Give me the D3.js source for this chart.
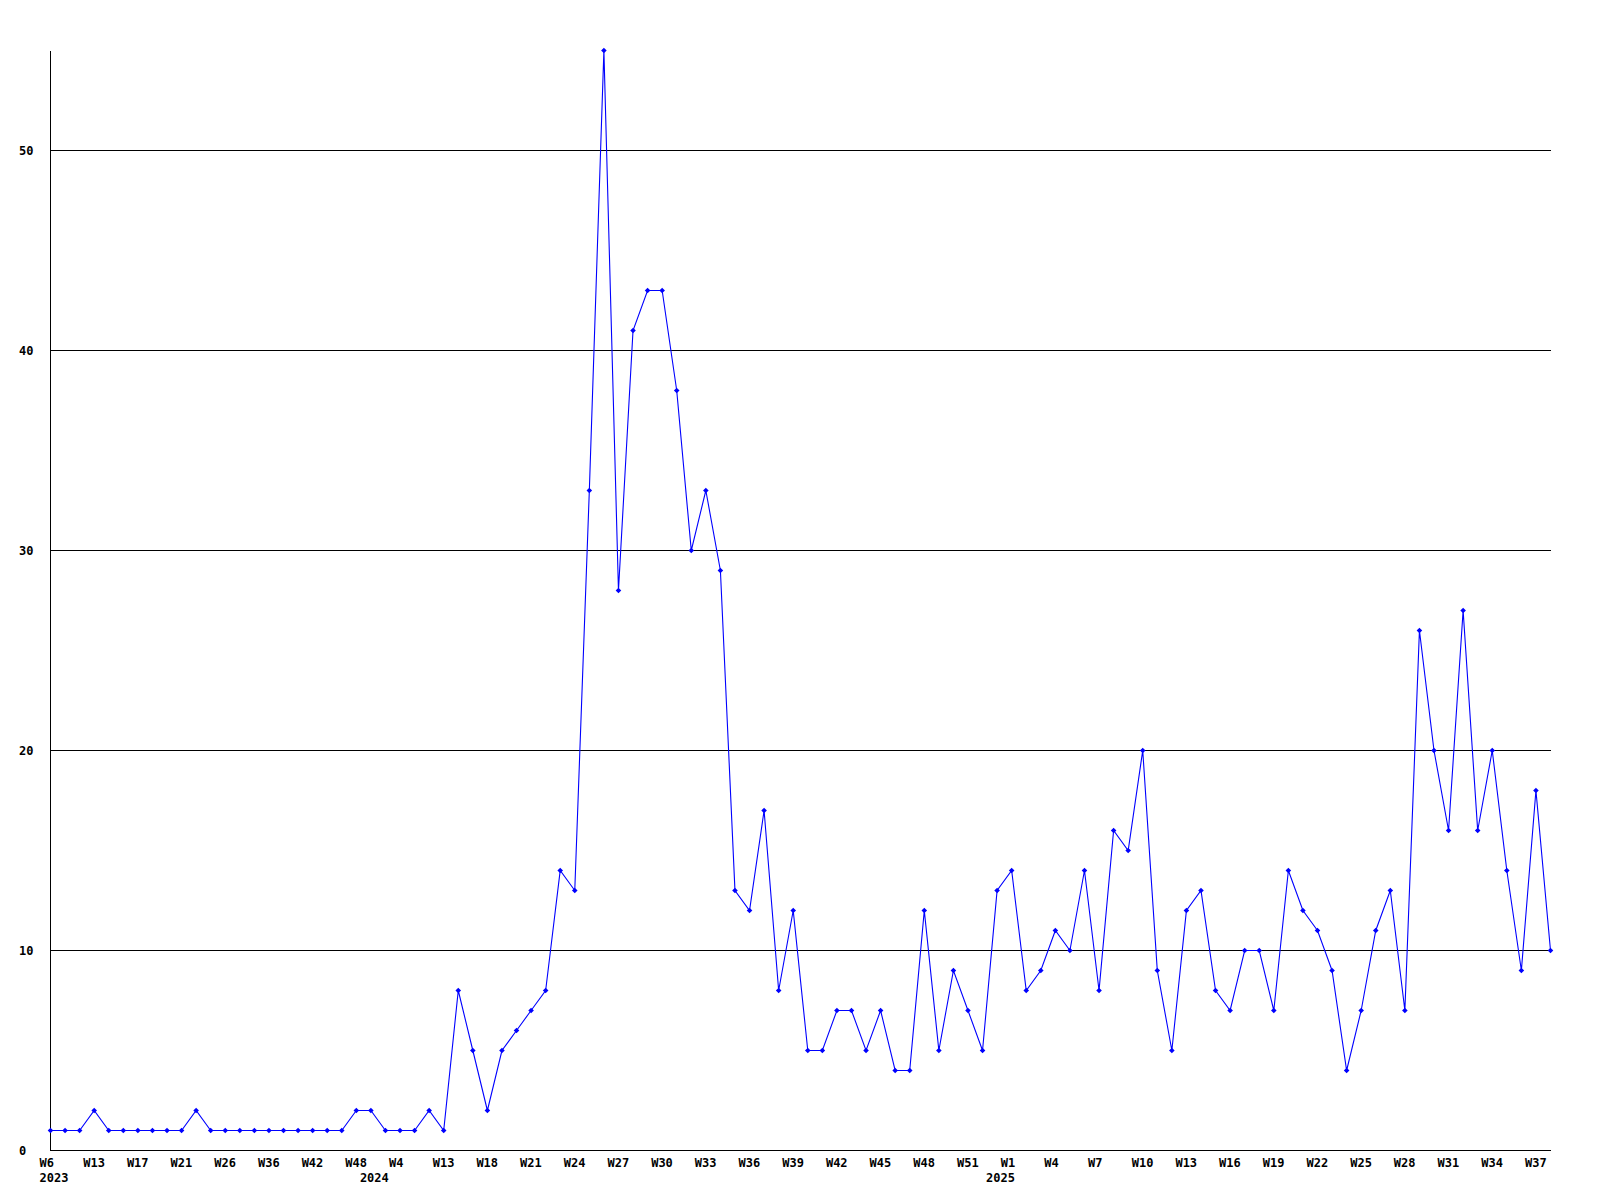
<!DOCTYPE html>
<html>
<head>
<meta charset="utf-8">
<script src="https://cdn.jsdelivr.net/npm/d3@7"></script>
<style>
  html, body { margin: 0; padding: 0; background: #ffffff; }
  svg { display: block; }
  text { font-family: "DejaVu Sans Mono", "Liberation Mono", monospace; font-weight: bold; font-size: 12px; fill: #000; }
</style>
</head>
<body>
<svg id="chart" width="1600" height="1200"></svg>
<script>
// Weekly counts, one point per reported week (W6 2023 ... W38 2025)
const counts = [
  1,1,1,2,1,1,1,1,1,1,2,1,1,1,1,1,1,1,1,1,1,2,2,1,1,1,2,1,
  8,5,2,5,6,7,8,14,13,33,
  55,28,41,43,43,38,30,33,29,13,
  12,17,8,12,5,5,7,7,5,7,
  4,4,12,5,9,7,5,13,14,8,
  9,11,10,14,8,16,15,20,9,5,
  12,13,8,7,10,10,7,14,12,11,
  9,4,7,11,13,7,26,20,16,27,
  16,20,14,9,18,10
];
// Week tick labels (every third point)
const weekLabels = ["W6","W13","W17","W21","W26","W36","W42","W48","W4","W13","W18","W21",
  "W24","W27","W30","W33","W36","W39","W42","W45","W48","W51","W1","W4","W7","W10",
  "W13","W16","W19","W22","W25","W28","W31","W34","W37"];
const weekLabelIndex = weekLabels.map((d, i) => i * 3);
// Year labels and the point index where each one is placed
const yearLabels = ["2023", "2024", "2025"];
const yearLabelIndex = [0, 22, 65];
// Y ticks
const yTicks = [0, 10, 20, 30, 40, 50];

const svg = d3.select("#chart");
svg.append("rect").attr("width", 1600).attr("height", 1200).attr("fill", "#fff");

const x = d3.scaleLinear().domain([0, counts.length - 1]).range([50.5, 1550.5]);
const y = d3.scaleLinear().domain([0, 55]).range([1150.5, 50.5]);

// Horizontal grid lines
svg.append("g").selectAll("line")
  .data(yTicks.filter(d => d > 0))
  .join("line")
  .attr("x1", x(0)).attr("x2", x(counts.length - 1))
  .attr("y1", d => y(d)).attr("y2", d => y(d))
  .attr("stroke", "#000").attr("stroke-width", 1)
  .attr("shape-rendering", "crispEdges");

// Axes lines
svg.append("line")
  .attr("x1", x(0)).attr("x2", x(0))
  .attr("y1", y(55)).attr("y2", y(0))
  .attr("stroke", "#000").attr("shape-rendering", "crispEdges");
svg.append("line")
  .attr("x1", x(0)).attr("x2", x(counts.length - 1))
  .attr("y1", y(0)).attr("y2", y(0))
  .attr("stroke", "#000").attr("shape-rendering", "crispEdges");

const styleText = sel => sel
  .style("font-family", "'DejaVu Sans Mono', monospace")
  .style("font-weight", "bold").style("font-size", "12px");

// Y axis labels (left aligned at x=19)
const yAxis = d3.axisLeft(y).tickValues(yTicks).tickSize(0).tickFormat(d3.format("d"));
const gy = svg.append("g").attr("transform", `translate(${x(0)},0)`).call(yAxis);
gy.select(".domain").remove();
gy.selectAll("text")
  .attr("x", 19 - x(0)).attr("dy", "0.36em")
  .attr("text-anchor", "start")
  .call(styleText);

// X axis week labels
const xAxis = d3.axisBottom(x).tickValues(weekLabelIndex).tickSize(0)
  .tickFormat((d, i) => weekLabels[i]);
const gx = svg.append("g").attr("transform", `translate(0,${y(0)})`).call(xAxis);
gx.select(".domain").remove();
gx.selectAll("text")
  .attr("y", 16).attr("dy", 0).attr("dx", -11.5)
  .attr("text-anchor", "start")
  .call(styleText);

// Year labels
const yearAxis = d3.axisBottom(x).tickValues(yearLabelIndex).tickSize(0)
  .tickFormat((d, i) => yearLabels[i]);
const gyr = svg.append("g").attr("transform", `translate(0,${y(0)})`).call(yearAxis);
gyr.select(".domain").remove();
gyr.selectAll("text")
  .attr("y", 31).attr("dy", 0).attr("dx", -11.5)
  .attr("text-anchor", "start")
  .call(styleText);

// Data line
const line = d3.line().x((d, i) => x(i)).y(d => y(d));
svg.append("path")
  .datum(counts)
  .attr("d", line)
  .attr("fill", "none")
  .attr("stroke", "#0000ff")
  .attr("stroke-width", 1.1);

// Markers
svg.append("g").selectAll("path")
  .data(counts)
  .join("path")
  .attr("transform", (d, i) => `translate(${x(i)},${y(d)})`)
  .attr("d", "M-2.8,0L0,-2.8L2.8,0L0,2.8Z M-2,-0.8h4v1.6h-4Z M-0.8,-2h1.6v4h-1.6Z")
  .attr("fill", "#0000ff");
</script>
</body>
</html>
